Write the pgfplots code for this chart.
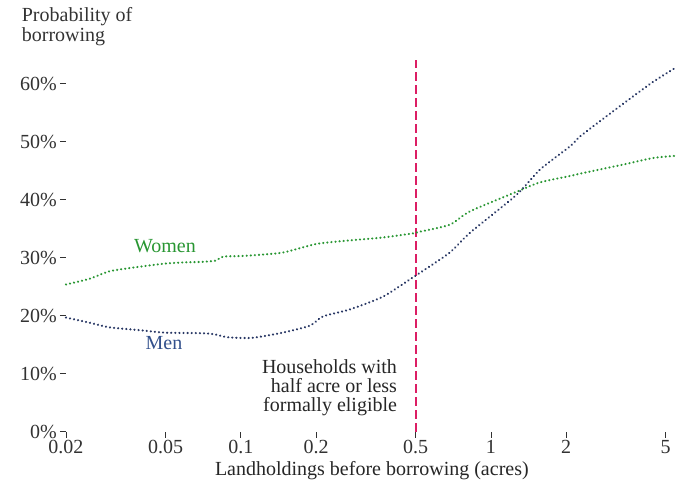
\documentclass[border=0pt]{standalone}
\usepackage{fontspec}
\setmainfont{Liberation Serif}
\usepackage{pgfplots}
\pgfplotsset{compat=1.18}
\definecolor{wgreen}{RGB}{40,150,50}
\definecolor{mblue}{RGB}{40,55,100}
\definecolor{mlab}{RGB}{50,80,140}
\definecolor{cutred}{RGB}{220,30,100}
\definecolor{tickgray}{RGB}{50,50,50}
\begin{document}
\fontsize{20pt}{24pt}\selectfont
\begin{tikzpicture}
\begin{axis}[
  at={(0,0)}, anchor=south west,
  scale only axis, width=612pt, height=372pt,
  xmode=log, xmin=0.02, xmax=5.586,
  ymin=0, ymax=64.1,
  axis lines*=left, axis line style={draw=none},
  tick align=outside, major tick length=6pt,
  tick style={line width=0.8pt, color=tickgray},
  minor tick num=0,
  xtick={0.02,0.05,0.1,0.2,0.5,1,2,5},
  xticklabels={0.02,0.05,0.1,0.2,0.5,1,2,5},
  ytick={0,10,20,30,40,50,60},
  yticklabels={0\%,10\%,20\%,30\%,40\%,50\%,60\%},
  xticklabel style={inner sep=0pt, yshift=-2pt, font=\fontsize{20pt}{24pt}\selectfont, text=tickgray},
  yticklabel style={inner sep=0pt, xshift=-3pt, font=\fontsize{20pt}{24pt}\selectfont, text=tickgray},
  clip=false,
]
\addplot[draw=cutred, color=cutred, line width=1.8pt, dash pattern=on 9pt off 4pt, mark=none] coordinates {(0.5,0) (0.5,64.1)};
\addplot[wgreen, line width=2.3pt, line cap=round, dash pattern=on 0.1pt off 4pt, smooth, tension=0.4] coordinates {
(0.0200,25.4) (0.0249,26.4) (0.0300,27.7) (0.0400,28.5) (0.0497,29.0) (0.0587,29.2)
(0.0700,29.3) (0.0790,29.5) (0.0850,30.2) (0.0992,30.3) (0.109,30.4) (0.147,30.9)
(0.201,32.4) (0.273,33.0) (0.370,33.5) (0.487,34.2) (0.520,34.5) (0.685,35.7)
(0.824,38.0) (1.27,41.4) (1.57,43.0) (2.07,44.1) (2.27,44.5) (3.49,46.2) (4.44,47.2) (5.54,47.6)};
\addplot[mblue, line width=2.3pt, line cap=round, dash pattern=on 0.1pt off 4pt, smooth, tension=0.4] coordinates {
(0.0200,19.7) (0.0249,18.8) (0.0300,18.0) (0.0400,17.5) (0.0497,17.1) (0.0700,17.0)
(0.0788,16.8) (0.0888,16.3) (0.111,16.2) (0.147,17.1) (0.189,18.3) (0.213,19.9)
(0.273,21.1) (0.370,23.3) (0.487,26.6) (0.520,27.4) (0.685,30.9) (0.824,34.3)
(1.27,40.9) (1.57,45.2) (2.07,49.2) (2.27,50.9) (2.72,53.5) (3.49,57.0) (4.44,60.3) (5.54,62.9)};
\end{axis}
\node[anchor=base west, text=black!80] at (-51pt,410pt) {Probability of};
\node[anchor=base west, text=black!80] at (-51pt,390pt) {borrowing};
\node[anchor=base, text=black!85] at (306pt,-44pt) {Landholdings before borrowing (acres)};
\node[text=wgreen] at (99pt,185.5pt) {Women};
\node[text=mlab] at (98pt,88.5pt) {Men};
\node[anchor=base east, text=black!85] at (338pt,58pt) {Households with};
\node[anchor=base east, text=black!85] at (338pt,39pt) {half acre or less};
\node[anchor=base east, text=black!85] at (338pt,20pt) {formally eligible};
\useasboundingbox (-66pt,-50pt) rectangle (612pt,432pt);
\end{tikzpicture}
\end{document}
